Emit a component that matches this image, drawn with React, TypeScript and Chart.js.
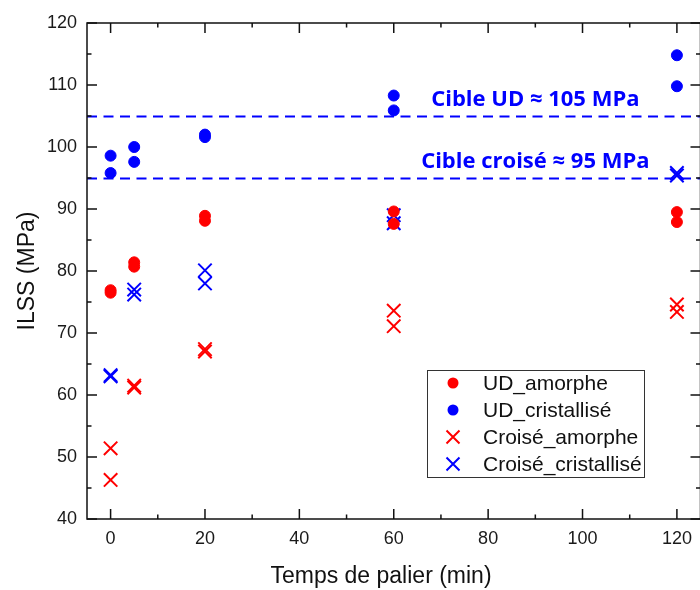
import { useEffect, useRef } from 'react';
import { Chart, registerables } from 'chart.js';

Chart.register(...registerables);

// ---- data ----
const times = [0, 5, 20, 60, 120];
const udAmorphe = [[76.9, 76.5], [81.4, 80.7], [88.9, 88.1], [89.6, 87.6], [89.5, 87.9]];
const udCristallise = [[98.6, 95.8], [100.0, 97.6], [102.0, 101.6], [108.3, 105.9], [114.8, 109.8]];
const croiseAmorphe = [[51.4, 46.3], [61.5, 61.2], [67.4, 67.0], [73.6, 71.1], [74.6, 73.4]];
const croiseCristallise = [[63.2, 63.0], [77.0, 76.2], [80.1, 78.0], [89.0, 87.7], [95.8, 95.4]];
const seriesLabels = ['UD_amorphe', 'UD_cristallisé', 'Croisé_amorphe', 'Croisé_cristallisé'];
const targetValues = [105, 95];
const targetLabels = ['Cible UD ≈ 105 MPa', 'Cible croisé ≈ 95 MPa'];
const xTitle = 'Temps de palier (min)';
const yTitle = 'ILSS (MPa)';
const xTickValues = [0, 20, 40, 60, 80, 100, 120];
const xMinorValues = [10, 30, 50, 70, 90, 110];
const yTickValues = [40, 50, 60, 70, 80, 90, 100, 110, 120];
const yMinorValues = [45, 55, 65, 75, 85, 95, 105, 115];

const RED = '#ff0000';
const BLUE = '#0000ff';
const FONT = "'Liberation Sans', Arial, sans-serif";

function toPoints(values: number[][]) {
  const pts: { x: number; y: number }[] = [];
  values.forEach((pair, i) => pair.forEach((v) => pts.push({ x: times[i], y: v })));
  return pts;
}

const styles = [
  { color: RED, style: 'circle' },
  { color: BLUE, style: 'circle' },
  { color: RED, style: 'crossRot' },
  { color: BLUE, style: 'crossRot' },
];

const framePlugin = {
  id: 'frameTargets',
  beforeDatasetsDraw(chart: any) {
    const { ctx, chartArea, scales } = chart;
    ctx.save();
    ctx.strokeStyle = BLUE;
    ctx.lineWidth = 2;
    ctx.setLineDash([10, 6.5]);
    targetValues.forEach((v) => {
      const y = Math.round(scales.y.getPixelForValue(v)) + 0.5;
      ctx.beginPath();
      ctx.moveTo(chartArea.left, y);
      ctx.lineTo(chartArea.right, y);
      ctx.stroke();
    });
    ctx.setLineDash([]);
    ctx.fillStyle = BLUE;
    ctx.font = "bold 22px 'Open Sans', sans-serif";
    ctx.textAlign = 'center';
    ctx.textBaseline = 'alphabetic';
    targetLabels.forEach((t, i) => {
      const y = scales.y.getPixelForValue(targetValues[i]) - 10;
      const x = scales.x.getPixelForValue(90);
      ctx.fillText(t, x, y);
    });
    ctx.restore();
  },
  afterDatasetsDraw(chart: any) {
    const { ctx, chartArea, scales } = chart;
    const { left, right, top, bottom } = chartArea;
    ctx.save();
    ctx.strokeStyle = '#111';
    ctx.lineWidth = 1.5;
    ctx.strokeRect(left, top, right - left, bottom - top);
    const major = 10;
    const minor = 4.5;
    ctx.beginPath();
    const xt = (v: number, len: number) => {
      const x = scales.x.getPixelForValue(v);
      ctx.moveTo(x, bottom);
      ctx.lineTo(x, bottom - len);
      ctx.moveTo(x, top);
      ctx.lineTo(x, top + len);
    };
    const yt = (v: number, len: number) => {
      const y = scales.y.getPixelForValue(v);
      ctx.moveTo(left, y);
      ctx.lineTo(left + len, y);
      ctx.moveTo(right, y);
      ctx.lineTo(right - len, y);
    };
    xTickValues.forEach((v) => xt(v, major));
    xMinorValues.forEach((v) => xt(v, minor));
    yTickValues.forEach((v) => yt(v, major));
    yMinorValues.forEach((v) => yt(v, minor));
    ctx.stroke();

    // x-axis title
    ctx.fillStyle = '#111';
    ctx.font = `23px ${FONT}`;
    ctx.textAlign = 'center';
    ctx.textBaseline = 'middle';
    ctx.fillText(xTitle, left + 294, bottom + 58);

    // legend
    const bx = 427, by = 370, bw = 217, bh = 107;
    ctx.lineWidth = 1;
    ctx.strokeStyle = '#333';
    ctx.strokeRect(bx + 0.5, by + 0.5, bw, bh);
    ctx.font = `21px ${FONT}`;
    ctx.textAlign = 'left';
    ctx.textBaseline = 'middle';
    seriesLabels.forEach((label, i) => {
      const cy = by + 13 + i * 27;
      const cx = bx + 26;
      const s = styles[i];
      ctx.fillStyle = s.color;
      ctx.strokeStyle = s.color;
      if (s.style === 'circle') {
        ctx.beginPath();
        ctx.arc(cx, cy, 5.5, 0, Math.PI * 2);
        ctx.fill();
      } else {
        ctx.lineWidth = 2;
        const d = 6.5;
        ctx.beginPath();
        ctx.moveTo(cx - d, cy - d);
        ctx.lineTo(cx + d, cy + d);
        ctx.moveTo(cx - d, cy + d);
        ctx.lineTo(cx + d, cy - d);
        ctx.stroke();
      }
      ctx.fillStyle = '#111';
      ctx.fillText(label, bx + 56, cy + 1);
    });
    ctx.restore();
  },
};

export default function App() {
  const ref = useRef<HTMLCanvasElement | null>(null);
  useEffect(() => {
    if (!ref.current) return;
    const allSeries = [udAmorphe, udCristallise, croiseAmorphe, croiseCristallise];
    const datasets = allSeries.map((vals, i) => ({
      label: seriesLabels[i],
      data: toPoints(vals),
      pointStyle: styles[i].style,
      pointRadius: styles[i].style === 'circle' ? 5.5 : 9.5,
      pointBorderWidth: styles[i].style === 'circle' ? 1 : 2,
      backgroundColor: styles[i].color,
      borderColor: styles[i].color,
      showLine: false,
    }));
    const chart = new Chart(ref.current, {
      type: 'scatter',
      data: { datasets } as any,
      options: {
        responsive: false,
        animation: false,
        layout: { padding: { left: 0, right: 9, top: 23, bottom: 0 } },
        plugins: { legend: { display: false }, tooltip: { enabled: false } },
        scales: {
          x: {
            type: 'linear',
            min: -5,
            max: 125,
            afterBuildTicks: (s: any) => {
              s.ticks = xTickValues.map((v) => ({ value: v }));
            },
            afterFit: (s: any) => {
              s.height = 71;
            },
            grid: { display: false, drawTicks: false },
            border: { display: false },
            ticks: { font: { family: FONT, size: 18 }, color: '#1a1a1a', padding: 9, maxRotation: 0, autoSkip: false },
            title: { display: false },
          },
          y: {
            type: 'linear',
            min: 40,
            max: 120,
            afterBuildTicks: (s: any) => {
              s.ticks = yTickValues.map((v) => ({ value: v }));
            },
            afterFit: (s: any) => {
              s.width = 87;
            },
            grid: { display: false, drawTicks: false },
            border: { display: false },
            ticks: { font: { family: FONT, size: 18 }, color: '#1a1a1a', padding: 10 },
            title: {
              display: true,
              text: yTitle,
              font: { family: FONT, size: 23 },
              color: '#111',
              padding: { top: 14, bottom: 0 },
            },
          },
        },
      } as any,
      plugins: [framePlugin],
    });
    return () => chart.destroy();
  }, []);
  return (
    <div style={{ position: 'absolute', left: 0, top: 0, width: 700, height: 590, overflow: 'hidden', background: '#fff' }}>
      <canvas ref={ref} width={712} height={590} style={{ display: 'block' }} />
    </div>
  );
}
